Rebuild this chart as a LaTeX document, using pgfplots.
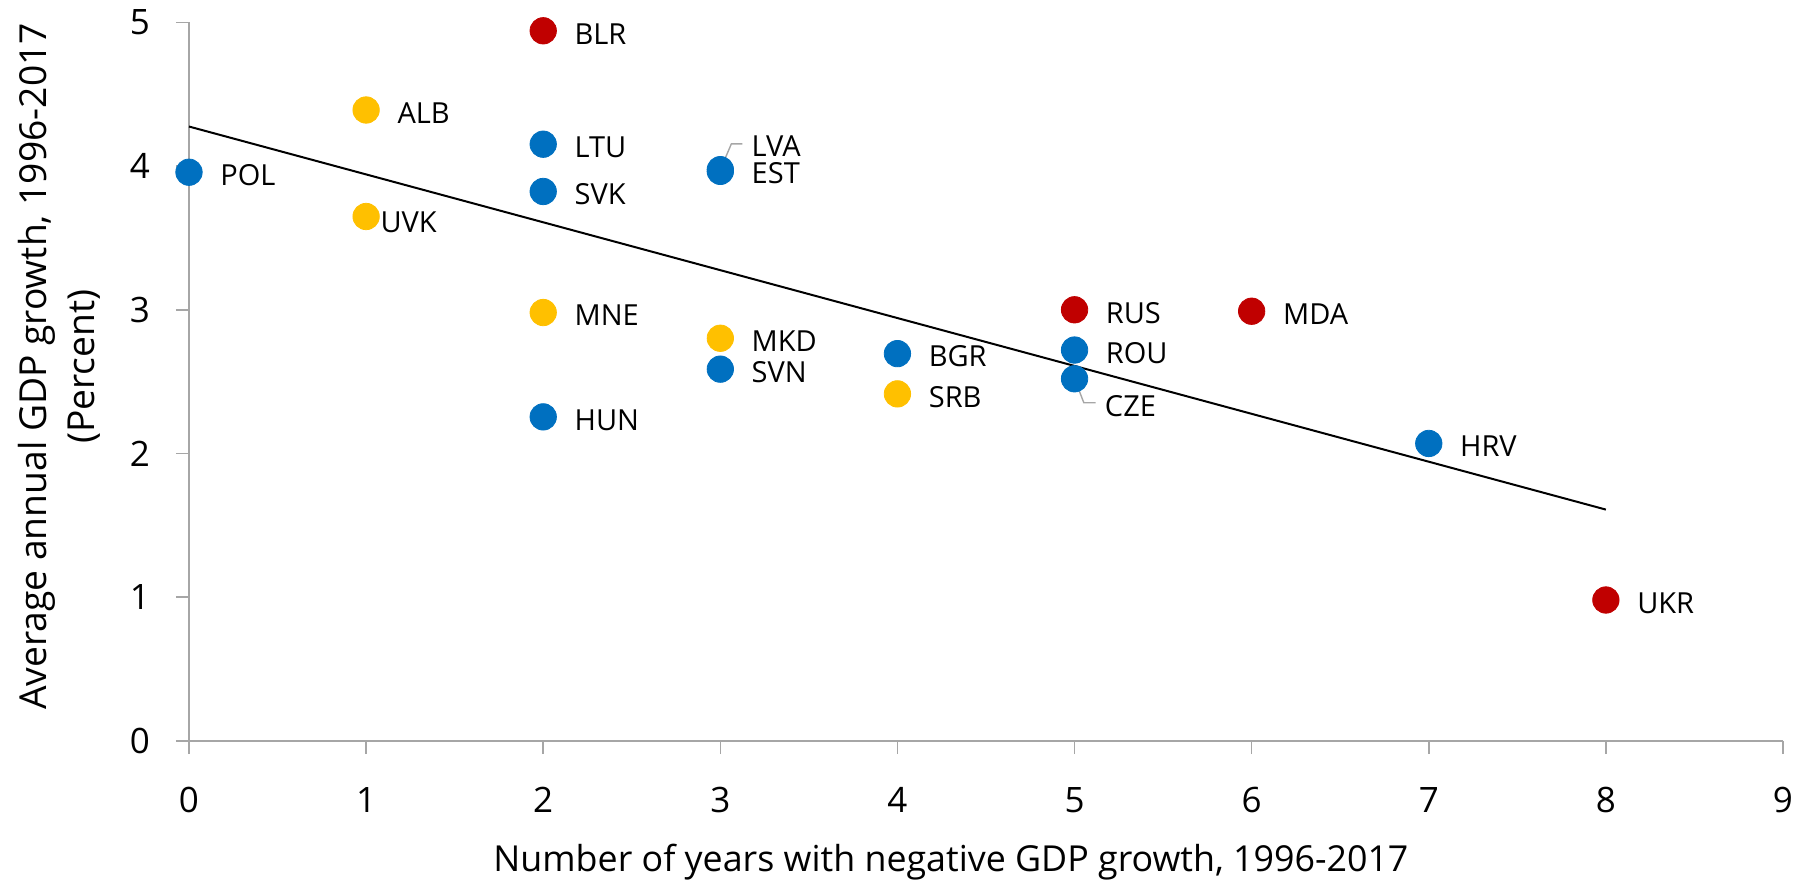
\documentclass[border=0pt]{standalone}
\usepackage{fontspec}
\setmainfont{Open Sans}
\usepackage{pgfplots}
\usepackage{pgfplotstable}
\pgfplotsset{compat=1.18}
\definecolor{cblue}{HTML}{0070C0}
\definecolor{cyellow}{HTML}{FFC000}
\definecolor{cred}{HTML}{C00000}
\definecolor{axgray}{HTML}{A6A6A6}

\pgfplotstableread{
x y label dx dy
0 3.957 POL 15.5 -1.5
2 4.152 LTU 15.5 -1.5
2 3.823 SVK 15.5 -1.5
2 2.255 HUN 15.5 -1.5
3 3.975 LVA 15.5 12
3 3.963 EST 15.5 -0.7
3 2.587 SVN 15.5 -1.5
4 2.695 BGR 15.5 -1.5
5 2.720 ROU 15.5 -1.5
5 2.520 CZE 15 -13.75
7 2.070 HRV 15.5 -1.5
}\bluedata

\pgfplotstableread{
x y label dx dy
1 4.390 ALB 15.5 -1.5
1 3.649 UVK 7 -3
2 2.981 MNE 15.5 -1.5
3 2.802 MKD 15.5 -1.5
4 2.415 SRB 15.5 -1.5
}\yellowdata

\pgfplotstableread{
x y label dx dy
2 4.941 BLR 15.5 -1.5
5 3.000 RUS 15.5 -1.5
6 2.990 MDA 15.5 -1.5
8 0.981 UKR 15.5 -1.5
}\reddata

\pgfplotsset{
  country/.style={
    only marks, mark=*, mark size=6.6pt, #1, mark options={draw=none, fill=#1},
    nodes near coords,
    point meta=explicit symbolic,
    visualization depends on={\thisrow{dx}\as\dx},
    visualization depends on={\thisrow{dy}\as\dy},
    every node near coord/.append style={anchor=west, xshift=\dx pt, yshift=\dy pt, inner sep=0pt, font=\fontsize{14.5}{17}\selectfont, text=black},
  }
}

\begin{document}
\begin{tikzpicture}
\begin{axis}[
  at={(0pt,0pt)}, anchor=south west,
  scale only axis, width=797pt, height=359.35pt,
  xmin=0, xmax=9, ymin=0, ymax=5,
  xtick={0,1,...,9}, ytick={0,1,...,5},
  axis lines*=left,
  tick align=outside,
  major tick length=6.5pt,
  axis line style={axgray, line width=1pt},
  tick style={axgray, line width=0.8pt},
  clip=false,
  /pgf/number format/assume math mode=true,
  ticklabel style={font=\fontsize{17.5}{21}\selectfont, text=black},
  xticklabel style={yshift=-13pt},
  yticklabel style={xshift=-9.5pt},
  every axis x label/.style={at={(axis description cs:0.478,0)}, yshift=-60.5pt, anchor=center, font=\fontsize{17.9}{21}\selectfont},
  every axis y label/.style={at={(axis description cs:0,0.521)}, xshift=-65pt, rotate=90, anchor=center, align=center, font=\fontsize{18.6}{24}\selectfont},
  xlabel={Number of years with negative GDP growth, 1996-2017},
  ylabel={Average annual GDP growth, 1996-2017\\(Percent)},
]
\addplot[country=cblue] table[x=x, y=y, meta=label] {\bluedata};
\addplot[country=cyellow] table[x=x, y=y, meta=label] {\yellowdata};
\addplot[country=cred] table[x=x, y=y, meta=label] {\reddata};
\addplot[black, line width=1pt, no marks] coordinates {(0,4.275) (8,1.61)};
\draw[axgray, line width=0.7pt] (axis cs:3,3.975) -- ++(5.5pt,12.85pt) -- ++(5.5pt,0pt);
\draw[axgray, line width=0.7pt] (axis cs:5,2.52) -- ++(4.65pt,-12pt) -- ++(5.85pt,0pt);
\end{axis}
\pgfresetboundingbox
\path[use as bounding box] (-94.5pt,-69.5pt) rectangle (807.5pt,370.5pt);
\end{tikzpicture}
\end{document}
